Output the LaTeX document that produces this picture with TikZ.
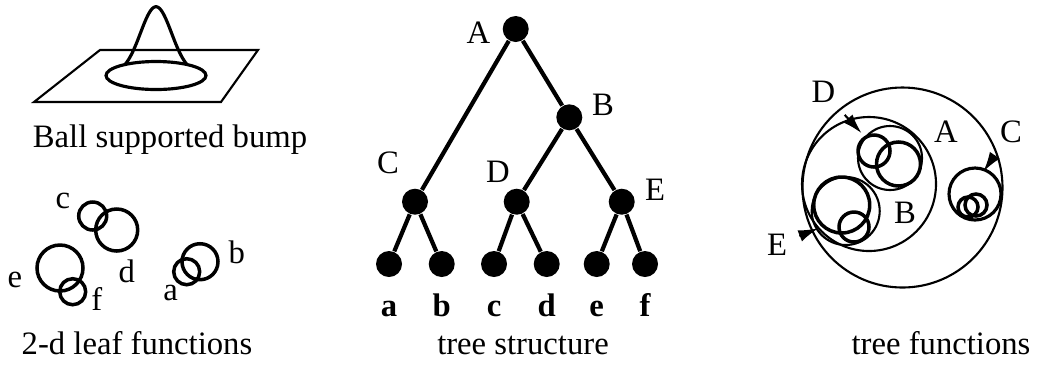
\documentclass[tikz,border=0pt]{standalone}
\usepackage{fontspec}
\setmainfont{Liberation Serif}
\usetikzlibrary{arrows.meta}

\begin{document}
\begin{tikzpicture}[font=\fontsize{9.3}{11}\selectfont,
  dot/.style={circle,fill,inner sep=0pt,minimum size=2.6mm},
  edge/.style={line width=1.2pt},
  leaffn/.style={line width=1pt},
  suppfn/.style={line width=0.6pt},
  pointer/.style={line width=0.6pt,-{Latex[length=2mm,width=1.2mm]}}]
\useasboundingbox (0,0) rectangle (10.37,3.71);
% ball supported bump
\draw[line width=0.6pt] (1.00,3.21) -- (2.58,3.21) -- (2.21,2.69) -- (0.34,2.69) -- cycle;
\draw[line width=0.9pt] (1.56,2.955) ellipse (0.50 and 0.14);
\draw[line width=0.9pt] plot[domain=-0.31:0.31,samples=51] ({1.56+\x},{3.065+0.578*(exp(-((\x/0.22)*(\x/0.22)))-0.137)/0.863});
\node[anchor=base] (bumpcap) at (1.70,2.24) {Ball supported bump};
% 2-d leaf functions
\draw[leaffn] (0.927,1.55) circle (0.14);
\draw[leaffn] (1.167,1.41) circle (0.21);
\draw[leaffn] (0.60,1.03) circle (0.23);
\draw[leaffn] (0.727,0.793) circle (0.13);
\draw[leaffn] (1.867,0.993) circle (0.13);
\draw[leaffn] (2.00,1.093) circle (0.18);
\node (lc) at (0.63,1.70) {c};
\node (ld) at (1.267,1.00) {d};
\node (le) at (0.15,0.91) {e};
\node (lf) at (0.967,0.72) {f};
\node (la) at (1.707,0.78) {a};
\node (lb) at (2.367,1.19) {b};
\node[anchor=base] (leafcap) at (1.37,0.17) {2-d leaf functions};
% tree structure
\node[dot] (tA) at (5.157,3.42) {};
\node[dot] (tB) at (5.693,2.537) {};
\node[dot] (tC) at (4.15,1.693) {};
\node[dot] (tD) at (5.167,1.693) {};
\node[dot] (tE) at (6.217,1.693) {};
\node[dot] (ta) at (3.89,1.07) {};
\node[dot] (tb) at (4.417,1.07) {};
\node[dot] (tc) at (4.94,1.07) {};
\node[dot] (td) at (5.467,1.07) {};
\node[dot] (te) at (5.967,1.07) {};
\node[dot] (tf) at (6.45,1.07) {};
\draw[edge] (tA) -- (tB);
\draw[edge] (tA) -- (tC);
\draw[edge] (tB) -- (tD);
\draw[edge] (tB) -- (tE);
\draw[edge] (tC) -- (ta);
\draw[edge] (tC) -- (tb);
\draw[edge] (tD) -- (tc);
\draw[edge] (tD) -- (td);
\draw[edge] (tE) -- (te);
\draw[edge] (tE) -- (tf);
\node (nA) at (4.783,3.383) {A};
\node (nB) at (6.03,2.66) {B};
\node (nC) at (3.88,2.077) {C};
\node (nD) at (4.98,1.993) {D};
\node (nE) at (6.55,1.81) {E};
\node[anchor=base,font=\fontsize{9.3}{11}\selectfont\bfseries] (na) at (3.89,0.543) {a};
\node[anchor=base,font=\fontsize{9.3}{11}\selectfont\bfseries] (nb) at (4.417,0.543) {b};
\node[anchor=base,font=\fontsize{9.3}{11}\selectfont\bfseries] (nc) at (4.94,0.543) {c};
\node[anchor=base,font=\fontsize{9.3}{11}\selectfont\bfseries] (nd) at (5.467,0.543) {d};
\node[anchor=base,font=\fontsize{9.3}{11}\selectfont\bfseries] (ne) at (5.967,0.543) {e};
\node[anchor=base,font=\fontsize{9.3}{11}\selectfont\bfseries] (nf) at (6.45,0.543) {f};
\node[anchor=base] (treecap) at (5.23,0.17) {tree structure};
% tree functions
\draw[suppfn] (9.025,1.835) circle (1.00);
\draw[suppfn] (8.69,1.87) circle (0.67);
\draw[suppfn] (8.90,2.13) circle (0.32);
\draw[leaffn] (8.74,2.20) circle (0.16);
\draw[leaffn] (8.985,2.07) circle (0.22);
\draw[suppfn] (8.457,1.60) circle (0.34);
\draw[leaffn] (8.417,1.66) circle (0.28);
\draw[leaffn] (8.54,1.44) circle (0.15);
\draw[line width=0.9pt] (9.75,1.77) circle (0.26);
\draw[leaffn] (9.68,1.64) circle (0.10);
\draw[leaffn] (9.76,1.66) circle (0.11);
\node (fA) at (9.46,2.39) {A};
\node (fB) at (9.05,1.577) {B};
\node (fC) at (10.11,2.39) {C};
\node (fD) at (8.233,2.793) {D};
\node (fE) at (7.77,1.26) {E};
\coordinate (Ctip) at (9.833,1.993);
\coordinate (Dtip) at (8.617,2.377);
\coordinate (Etip) at (8.183,1.427);
\draw[pointer] (fC) -- (Ctip);
\draw[pointer] (fD) -- (Dtip);
\draw[pointer] (fE) -- (Etip);
\node[anchor=base] (funccap) at (9.41,0.17) {tree functions};
\end{tikzpicture}
\end{document}
